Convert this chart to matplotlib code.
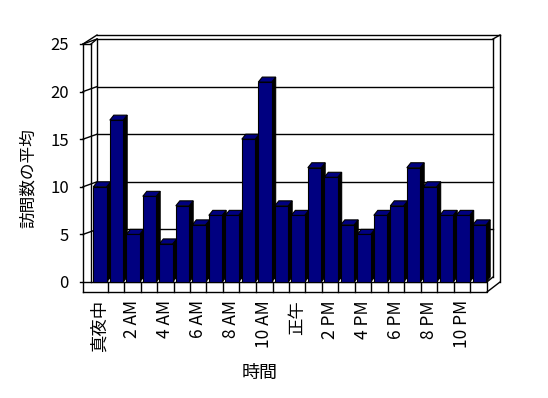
import numpy as np
import matplotlib
matplotlib.use("Agg")
import matplotlib.pyplot as plt
from matplotlib.patches import Polygon

plt.rcParams['font.family'] = ['Noto Sans CJK JP', 'DejaVu Sans']

# average visits per hour
hours = ['真夜中', '1 AM', '2 AM', '3 AM', '4 AM', '5 AM', '6 AM', '7 AM', '8 AM', '9 AM',
         '10 AM', '11 AM', '正午', '1 PM', '2 PM', '3 PM', '4 PM', '5 PM', '6 PM', '7 PM',
         '8 PM', '9 PM', '10 PM', '11 PM']
visits = [10, 17, 5, 9, 4, 8, 6, 7, 7, 15, 21, 8, 7, 12, 11, 6, 5, 7, 8, 12, 10, 7, 7, 6]
yticks = [0, 5, 10, 15, 20, 25]
ylabel = '訪問数の平均'
xlabel = '時間'

W, H = 548, 398
fig = plt.figure(figsize=(W / 100, H / 100), dpi=100)
fig.patch.set_facecolor('white')

# front face of the plot box in pixels
x0, x1 = 91, 487
ybot, ytop = 282, 44
ax = fig.add_axes([x0 / W, 1 - ybot / H, (x1 - x0) / W, (ybot - ytop) / H])
n = len(visits)
ax.set_xlim(0, n)
ax.set_ylim(0, 25)
for s in ax.spines.values():
    s.set_visible(False)

sx = (x1 - x0) / n          # px per category
sy = (ybot - ytop) / 25.0   # px per unit
wt = 8 / sx                 # left wall thickness
dx, dy = 6 / sx, 5 / sy     # depth to back wall
fb = -10 / sy               # floor bottom
rx = 13 / sx                # outer right edge
ot = 25 + 9 / sy            # outer top

lk = dict(color='black', lw=1, clip_on=False, zorder=1)
# back wall and gridlines
for v in yticks[1:]:
    ax.plot([dx, n + dx], [v + dy, v + dy], **lk)
    ax.plot([-wt, dx], [v, v + dy], **lk)
ax.plot([dx, dx], [dy, 25 + dy], **lk)
ax.plot([n + dx, n + dx], [dy, 25 + dy], **lk)
ax.plot([dx, n + rx], [ot, ot], **lk)
ax.plot([n + dx, n + rx], [25 + dy, ot], **lk)
ax.plot([n + rx, n + rx], [0, ot], **lk)
# left wall
ax.plot([-wt, -wt], [fb, 25], **lk)
ax.plot([0, 0], [0, 25], **lk)
ax.plot([-wt, 0], [25, 25], **lk)
ax.plot([-wt, dx], [25, ot], **lk)
ax.plot([0, dx], [25, 25 + dy], **lk)
# floor
ax.plot([-wt, n, n, -wt], [fb, fb, 0, 0], **lk)
for i in range(1, n):
    ax.plot([i, i], [fb, 0], **lk)
ax.plot([n, n + rx], [fb, 0], **lk)
ax.plot([n, n + dx], [0, dy], **lk)
for v in yticks:
    ax.plot([-wt - 3 / sx, -wt], [v, v], **lk)

# bars with a top and a dark side
off, bw = 0.14, 0.81
bdx, bdy = 4 / sx, 5 / sy
xs = np.arange(n) + off
for i, (x, v) in enumerate(zip(xs, visits)):
    z = 3 + i
    ax.bar(x, v, width=bw, align='edge', color='#000080', edgecolor='black',
           linewidth=0.8, zorder=z + 0.5, clip_on=False)
    side = [(x + bw, 0), (x + bw + bdx, bdy), (x + bw + bdx, v + bdy), (x + bw, v)]
    top = [(x, v), (x + bw, v), (x + bw + bdx, v + bdy), (x + bdx, v + bdy)]
    ax.add_patch(Polygon(side, closed=True, facecolor='black', edgecolor='black',
                         lw=0.8, zorder=z, clip_on=False))
    ax.add_patch(Polygon(top, closed=True, facecolor='#000080', edgecolor='black',
                         lw=0.8, zorder=z + 0.6, clip_on=False))

ax.set_yticks(yticks)
ax.set_yticklabels([str(v) for v in yticks], fontsize=12)
ax.tick_params(axis='y', length=0, pad=16)
ax.set_xticks(np.arange(0, n, 2) + 0.5)
ax.set_xticklabels(hours[::2], rotation=90, fontsize=12.5)
ax.tick_params(axis='x', length=0, pad=13)

fig.text(260 / W, 1 - 373 / H, xlabel, fontsize=13, ha='center', va='center')
fig.text(28 / W, 1 - 178 / H, ylabel, fontsize=12, rotation=90, ha='center', va='center')

fig.savefig('out.png', dpi=100, facecolor='white')
